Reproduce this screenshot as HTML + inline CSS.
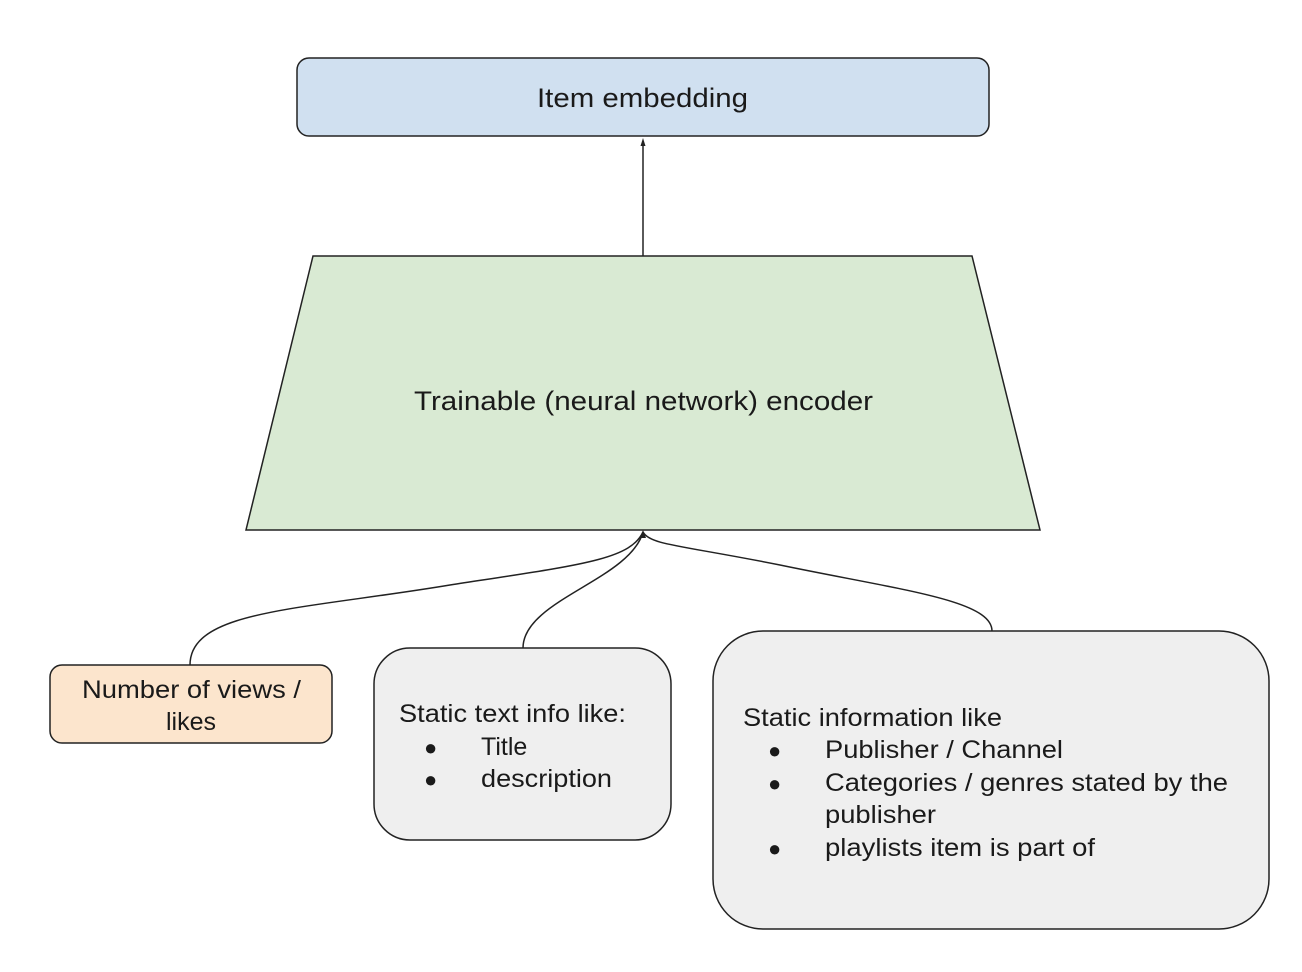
<!DOCTYPE html>
<html><head><style>
html,body{margin:0;padding:0;background:#fff;}
svg{display:block;}
text{font-family:"Liberation Sans",Arial,sans-serif;fill:#1a1a1a;}
</style></head><body>
<svg width="1302" height="972" viewBox="0 0 1302 972" xmlns="http://www.w3.org/2000/svg">
<rect x="297" y="58" width="692" height="78" rx="12" fill="#d0e0f0" stroke="#222" stroke-width="1.5"/>
<text x="537" y="107" font-size="27" textLength="211" lengthAdjust="spacingAndGlyphs">Item embedding</text>
<line x1="643" y1="256" x2="643" y2="144" stroke="#222" stroke-width="1.5"/>
<polygon points="643,138 640.5,146 645.5,146" fill="#222"/>
<polygon points="313,256 972,256 1040,530 246,530" fill="#d9ead3" stroke="#222" stroke-width="1.5"/>
<text x="414" y="410" font-size="27" textLength="459" lengthAdjust="spacingAndGlyphs">Trainable (neural network) encoder</text>
<g fill="none" stroke="#222" stroke-width="1.5">
<path d="M190,665 C190,610 300,610 450,585 C580,565 630,560 643,532"/>
<path d="M523,648 C523,600 630,580 643,532"/>
<path d="M992,631 C992,600 900,590 780,565 C680,545 650,545 643,532"/>
</g>
<polygon points="643,530 640,538 646,538" fill="#222"/>
<rect x="50" y="665" width="282" height="78" rx="12" fill="#fce5cd" stroke="#222" stroke-width="1.5"/>
<text x="82" y="698" font-size="25" textLength="219" lengthAdjust="spacingAndGlyphs">Number of views /</text>
<text x="191" y="730" font-size="25" text-anchor="middle">likes</text>
<rect x="374" y="648" width="297" height="192" rx="36" fill="#efefef" stroke="#222" stroke-width="1.5"/>
<text x="399" y="722" font-size="25" textLength="227" lengthAdjust="spacingAndGlyphs">Static text info like:</text>
<text x="424" y="755" font-size="22">●</text><text x="481" y="755" font-size="25">Title</text>
<text x="424" y="787" font-size="22">●</text><text x="481" y="787" font-size="25" textLength="131" lengthAdjust="spacingAndGlyphs">description</text>
<rect x="713" y="631" width="556" height="298" rx="50" fill="#efefef" stroke="#222" stroke-width="1.5"/>
<text x="743" y="726" font-size="25" textLength="259" lengthAdjust="spacingAndGlyphs">Static information like</text>
<text x="768" y="758" font-size="22">●</text><text x="825" y="758" font-size="25" textLength="238" lengthAdjust="spacingAndGlyphs">Publisher / Channel</text>
<text x="768" y="791" font-size="22">●</text><text x="825" y="791" font-size="25" textLength="403" lengthAdjust="spacingAndGlyphs">Categories / genres stated by the</text>
<text x="825" y="823" font-size="25" textLength="111" lengthAdjust="spacingAndGlyphs">publisher</text>
<text x="768" y="856" font-size="22">●</text><text x="825" y="856" font-size="25" textLength="270" lengthAdjust="spacingAndGlyphs">playlists item is part of</text>
</svg>
</body></html>
